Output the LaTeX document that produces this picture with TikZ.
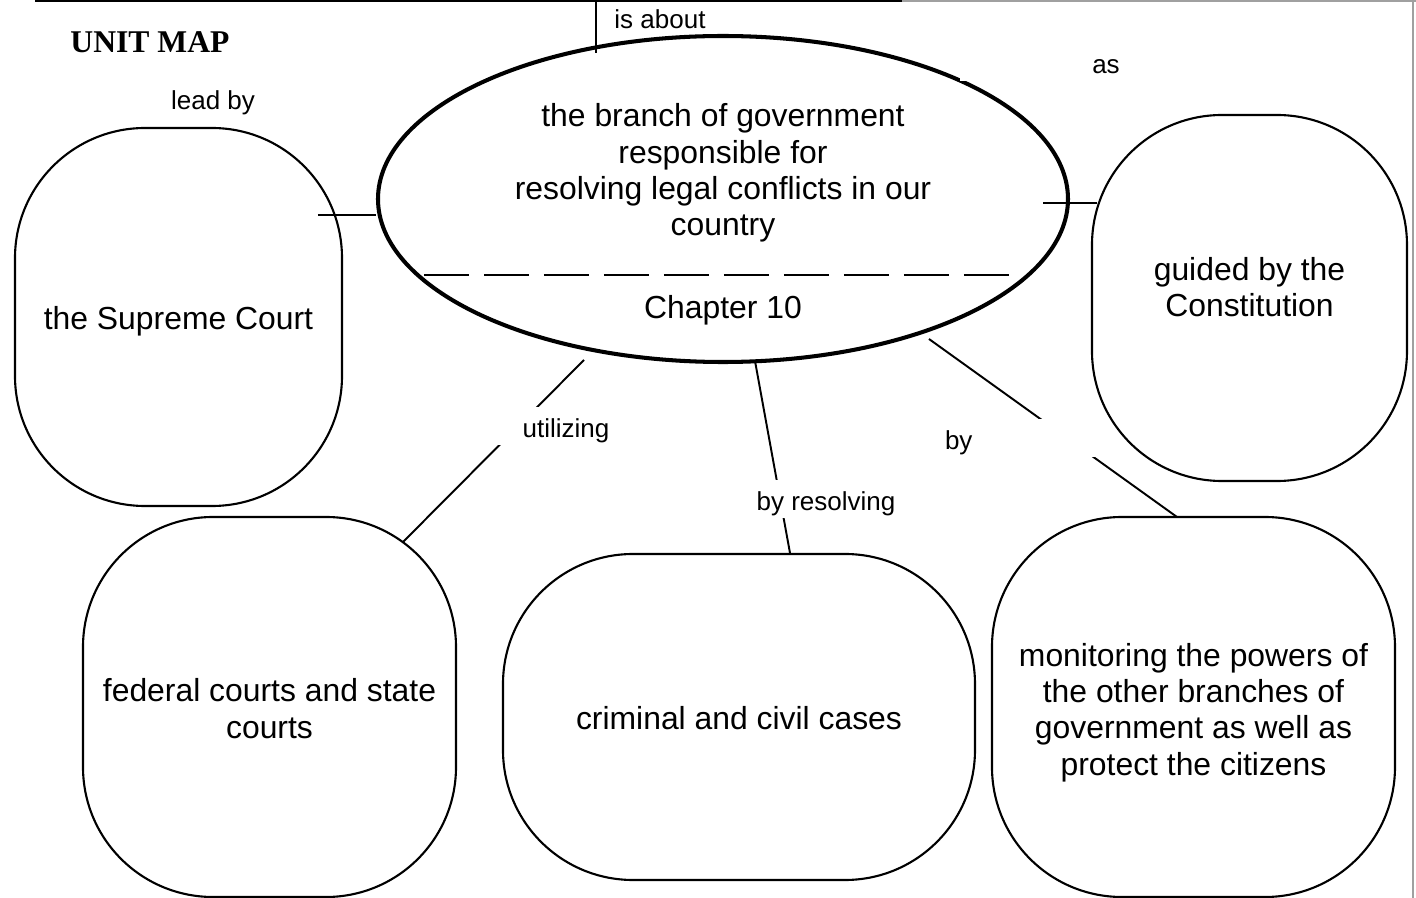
\documentclass[tikz,border=0pt]{standalone}
\usepackage{fontspec}
\setmainfont{Liberation Sans}
\newfontfamily\titlefont{Liberation Serif}
\usepackage{tikz}
\usetikzlibrary{shapes.geometric}
\usetikzlibrary{positioning}
\usepackage{xcolor}
\definecolor{edgegray}{RGB}{160,160,160}
\newcommand{\boxfont}{\fontsize{9.07}{10.35}\selectfont}
\newcommand{\linkfont}{\fontsize{7.4}{8.5}\selectfont}
\newcommand{\titlesize}{\fontsize{9}{10}\selectfont}
\tikzset{
    concept/.style={draw, rectangle, rounded corners=1.3cm, line width=0.6pt, inner sep=0pt},
    concepttext/.style={font=\boxfont, align=center, inner sep=0pt},
    topic/.style={draw, ellipse, line width=1.15pt, inner sep=0pt, minimum width=6.9cm, minimum height=3.26cm},
    plainword/.style={font=\linkfont, inner sep=0pt},
    linkword/.style={plainword, fill=white, minimum height=0.38cm, text height=0.28cm, text depth=0.04cm},
    link/.style={line width=0.55pt},
    tie/.style={line width=0.85pt},
    split/.style={line width=0.3pt, dash pattern=on 0.45cm off 0.15cm},
}

\begin{document}
\begin{tikzpicture}
    \useasboundingbox (0,0) rectangle (14.16,-8.98);

    % page edges
    \coordinate (top-left) at (0.35,-0.01);
    \coordinate (top-mid) at (9.02,-0.01);
    \coordinate (top-right) at (14.16,-0.01);
    \coordinate (side-top) at (14.13,0);
    \coordinate (side-bottom) at (14.13,-8.98);
    \draw[line width=0.8pt] (top-left) -- (top-mid);
    \draw[edgegray, line width=0.3pt] (top-mid) -- (top-right) (side-top) -- (side-bottom);

    \node[font=\titlefont\titlesize\bfseries] (title) at (1.50,-0.42) {UNIT MAP};

    % central topic
    \node[topic] (ell) at (7.23,-1.99) {};
    \node[concepttext] (ell-text) at (7.23,-1.73)
        {the branch of government\\responsible for\\resolving legal conflicts in our\\country};
    \coordinate (split-start) at (4.24,-2.75);
    \coordinate (split-end) at (10.21,-2.75);
    \draw[split] (split-start) -- (split-end);
    \node[concepttext] (chapter) at (7.23,-3.10) {Chapter 10};

    % concepts
    \node[concept, minimum width=3.27cm, minimum height=3.78cm] (sc) at (1.785,-3.17) {};
    \node[concept, minimum width=3.15cm, minimum height=3.66cm] (gc) at (12.495,-2.98) {};
    \node[concept, minimum width=3.73cm, minimum height=3.80cm] (fc) at (2.695,-7.07) {};
    \node[concept, minimum width=4.72cm, minimum height=3.26cm] (cc) at (7.39,-7.17) {};
    \node[concept, minimum width=4.03cm, minimum height=3.80cm] (mc) at (11.935,-7.07) {};

    \node[concepttext] (sc-text) at (1.785,-3.21) {the Supreme Court};
    \node[concepttext] (gc-text) at (12.495,-2.87) {guided by the\\Constitution};
    \node[concepttext] (fc-text) at (2.695,-7.085) {federal courts and state\\courts};
    \node[concepttext] (cc-text) at (7.39,-7.18) {criminal and civil cases};
    \node[concepttext] (mc-text) at (11.935,-7.125)
        {monitoring the powers of\\the other branches of\\government as well as\\protect the citizens};

    % connectors
    \coordinate (about-top) at (5.96,-0.01);
    \coordinate (about-end) at (5.96,-0.53);
    \coordinate (lead-start) at (3.18,-2.15);
    \coordinate (as-start) at (10.43,-2.03);
    \coordinate (as-end) at (10.97,-2.03);
    \coordinate (util-start) at (5.84,-3.60);
    \coordinate (util-end) at (4.03,-5.42);
    \coordinate (resolve-start) at (7.55,-3.61);
    \coordinate (resolve-end) at (7.90,-5.53);
    \coordinate (by-start) at (9.29,-3.39);
    \coordinate (by-end) at (11.77,-5.17);

    \draw[link] (about-top) -- (about-end);
    \draw[tie] (lead-start) -- (lead-start -| ell.west);
    \draw[tie] (as-start) -- (as-end);
    \draw[link] (util-start) -- (util-end);
    \draw[link] (resolve-start) -- (resolve-end);
    \draw[link] (by-start) -- (by-end);

    % linking words
    \node[plainword] (about) at (6.60,-0.19) {is about};
    \node[plainword] (lead) at (2.13,-1.03) {lead by};
    \node[linkword, minimum width=2.92cm] (as) at (11.06,-0.62) {as};
    \node[linkword, minimum width=1.36cm] (util) at (5.66,-4.26) {utilizing};
    \node[linkword, inner xsep=0.1cm] (resolve) at (8.26,-4.99) {by resolving};
    \node[linkword, text width=1.45cm, align=left, inner xsep=0.1cm] (by) at (10.175,-4.38) {by};
\end{tikzpicture}
\end{document}
